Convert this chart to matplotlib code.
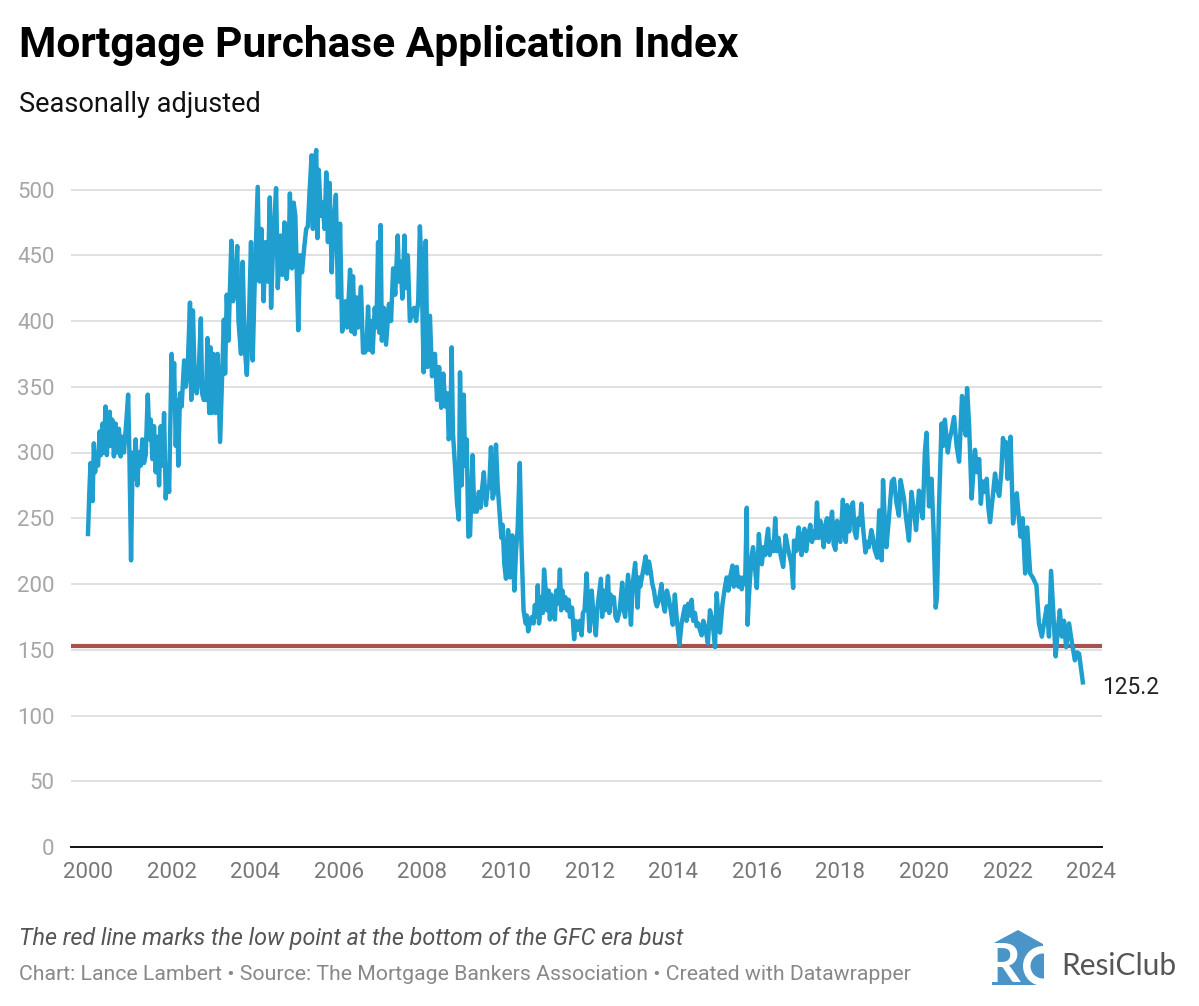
#!/usr/bin/env python3
"""Mortgage Purchase Application Index, weekly values read off the picture."""
import numpy as np
import matplotlib
matplotlib.use("Agg")
import matplotlib.pyplot as plt
from matplotlib.patches import Polygon, Circle

# (years since 2000, index value)
BOOM_A = [(0.00,238),(0.03,268),(0.06,292),(0.09,270),(0.11,263),(0.14,307),(0.17,285),(0.20,298),(0.24,290),
          (0.28,316),(0.31,298),(0.35,322),(0.38,300),(0.42,335),(0.45,298),(0.48,315),(0.52,331),(0.55,305),
          (0.58,325),(0.62,297),(0.66,322),(0.70,300),(0.74,318),(0.78,297),(0.82,312),(0.86,300),(0.92,325),
          (0.96,344),(0.99,300),(1.03,218),(1.07,300),(1.10,280),(1.14,310),(1.18,275),(1.22,300),(1.26,290),
          (1.30,310),(1.34,292),(1.38,298),(1.43,344),(1.47,310),(1.50,325),(1.54,295),(1.58,320),(1.62,285),
          (1.66,312),(1.70,275),(1.74,320),(1.78,290),(1.82,330),(1.86,265),(1.90,290),(1.94,270)]
BOOM_B = [(2.00,375),(2.03,340),(2.06,368),(2.10,305),(2.13,340),(2.16,290),(2.20,345),(2.24,335),(2.30,370),
          (2.34,350),(2.38,360),(2.44,414),(2.47,340),(2.51,408),(2.55,360),(2.60,345),(2.64,355),(2.70,402),
          (2.73,345),(2.77,340),(2.82,340),(2.86,387),(2.90,330),(2.93,380),(2.96,330),(3.00,375),(3.05,330),
          (3.10,375),(3.16,308),(3.20,350),(3.25,401),(3.28,360),(3.32,420),(3.36,385),(3.43,461),(3.47,415),
          (3.52,430),(3.57,457),(3.60,400),(3.66,375),(3.70,445),(3.75,380),(3.80,359),(3.85,400),(3.90,460),
          (3.94,370),(3.98,420)]
PEAK = [(4.06,502),(4.10,430),(4.15,470),(4.20,415),(4.25,460),(4.30,430),(4.35,494),(4.38,410),(4.43,460),
        (4.50,501),(4.54,425),(4.60,465),(4.65,435),(4.70,475),(4.75,432),(4.80,450),(4.83,497),(4.88,440),
        (4.92,490),(4.96,480),(5.03,393),(5.07,450),(5.12,437),(5.17,455),(5.22,470),(5.26,472),(5.30,498),
        (5.35,526),(5.38,470),(5.42,520),(5.46,530),(5.49,463),(5.52,515),(5.57,480),(5.61,490),(5.66,470),
        (5.70,513),(5.74,460),(5.78,505),(5.83,437),(5.87,470),(5.93,496),(5.98,418),(6.03,474),(6.08,392),
        (6.12,400),(6.16,415),(6.20,395),(6.27,439),(6.30,392),(6.34,434),(6.38,390),(6.42,418),(6.46,395),
        (6.53,426),(6.58,376),(6.62,376),(6.66,378),(6.70,411),(6.74,378),(6.78,400),(6.81,376),(6.86,410),
        (6.90,395),(6.94,460),(6.97,391),(7.00,473),(7.03,385),(7.08,410),(7.13,382),(7.20,413),(7.25,400),
        (7.30,440),(7.35,420),(7.41,465),(7.44,430),(7.48,445),(7.52,417),(7.57,465),(7.60,425),(7.65,450),
        (7.70,400),(7.75,405),(7.80,410),(7.85,400),(7.90,415),(7.94,472),(7.98,440)]
BUST = [(8.03,361),(8.08,461),(8.12,365),(8.18,404),(8.23,358),(8.30,375),(8.35,340),(8.40,365),(8.45,334),
        (8.50,360),(8.55,335),(8.60,345),(8.63,310),(8.67,320),(8.70,380),(8.73,315),(8.78,290),(8.83,261),
        (8.87,249),(8.90,361),(8.94,275),(8.99,344),(9.02,290),(9.06,310),(9.10,236),(9.14,237),(9.20,298),
        (9.24,255),(9.27,262),(9.30,255),(9.35,270),(9.39,258),(9.42,270),(9.47,285),(9.52,260),(9.56,272),
        (9.60,275),(9.64,304),(9.68,265),(9.72,270),(9.76,306),(9.80,275),(9.83,262),(9.86,250),(9.89,235),
        (9.92,245),(9.96,215),(10.00,204),(10.05,241),(10.10,205),(10.15,237),(10.20,195),(10.24,225),
        (10.28,243),(10.33,292),(10.37,230),(10.40,200),(10.42,180)]
FLAT = [(10.47,170),(10.50,176),(10.53,164),(10.58,172),(10.62,175),(10.66,170),(10.69,184),(10.73,175),(10.76,199),
        (10.79,170),(10.85,190),(10.88,178),(10.91,211),(10.95,195),(10.98,180),(11.02,195),(11.05,173),(11.08,192),
        (11.11,175),(11.14,185),(11.17,173),(11.20,195),(11.23,185),(11.26,192),(11.29,211),(11.32,180),(11.35,195),
        (11.38,182),(11.42,190),(11.46,180),(11.50,188),(11.53,175),(11.58,182),(11.63,158),(11.66,172),(11.70,165),
        (11.76,172),(11.81,161),(11.84,178),(11.88,180),(11.93,208),(11.96,185),(12.00,164),(12.05,195),(12.08,182),
        (12.15,161),(12.18,180),(12.21,188),(12.27,204),(12.30,175),(12.33,195),(12.37,180),(12.40,190),(12.44,206),
        (12.47,178),(12.50,192),(12.54,185),(12.58,190),(12.62,175),(12.66,172),(12.72,180),(12.78,201),(12.82,180),
        (12.85,175),(12.92,207),(12.99,169),(13.03,200),(13.09,216),(13.15,182),(13.18,205),(13.21,198),(13.28,210),
        (13.34,221),(13.38,208),(13.42,217),(13.46,210),(13.50,200),(13.54,195),(13.58,186),(13.61,183),(13.66,188),
        (13.72,200),(13.76,185),(13.80,179),(13.85,195),(13.90,188),(13.94,180),(13.99,169),(14.04,192),(14.08,175),
        (14.15,154),(14.20,170),(14.28,183),(14.32,172),(14.36,185),(14.40,176),(14.44,188),(14.48,172),(14.52,178),
        (14.56,168),(14.60,170),(14.64,165),(14.68,161),(14.72,172),(14.76,168),(14.83,155),(14.88,180),(14.94,172),
        (15.00,152)]
RECOVERY = [(15.04,193),(15.08,175),(15.12,163),(15.18,185),(15.24,198),(15.28,205),(15.32,195),(15.36,205),
            (15.42,214),(15.45,198),(15.49,205),(15.52,213),(15.56,198),(15.60,205),(15.64,196),(15.68,205),
            (15.72,200),(15.76,258),(15.78,169),(15.81,190),(15.84,205),(15.88,222),(15.91,228),(15.95,215),
            (16.00,197),(16.05,238),(16.08,225),(16.12,215),(16.16,228),(16.20,222),(16.24,235),(16.27,242),
            (16.31,222),(16.36,232),(16.40,225),(16.44,250),(16.48,225),(16.52,235),(16.57,222),(16.63,213),
            (16.69,237),(16.74,228),(16.78,222),(16.83,215),(16.87,197),(16.89,233),(16.94,225),(17.00,243),
            (17.04,228),(17.07,222),(17.11,238),(17.14,242),(17.18,225),(17.22,235),(17.28,245),(17.32,232),
            (17.36,240),(17.40,235),(17.44,262),(17.48,235),(17.52,248),(17.56,240),(17.60,228),(17.64,245),
            (17.68,250),(17.72,232),(17.76,245),(17.80,255),(17.84,230),(17.88,226),(17.92,248),(17.96,240),
            (18.00,232),(18.06,264),(18.09,240),(18.13,232),(18.16,260),(18.21,240),(18.26,258),(18.30,262),
            (18.34,240),(18.38,235),(18.43,250),(18.47,245),(18.50,261),(18.55,240),(18.60,224),(18.64,232),
            (18.68,228),(18.74,241),(18.78,235),(18.82,226),(18.88,220),(18.93,256),(18.99,218),(19.02,279),
            (19.06,250),(19.10,228),(19.16,250),(19.23,278),(19.28,280),(19.34,262),(19.40,252),(19.44,279),
            (19.48,272),(19.52,265),(19.58,248),(19.64,233),(19.70,270),(19.76,255),(19.81,241),(19.88,271),
            (19.92,262),(19.97,250)]
COVID = [(20.02,300),(20.06,315),(20.12,259),(20.18,280),(20.23,240),(20.28,182),(20.31,190),(20.36,260),
         (20.42,322),(20.46,305),(20.50,325),(20.54,310),(20.57,300),(20.61,310),(20.65,315),(20.72,327),
         (20.78,305),(20.84,293),(20.91,343),(20.96,320),(21.00,313),(21.03,349),(21.08,320),(21.14,265),
         (21.18,285),(21.22,302),(21.27,285),(21.32,295),(21.36,261),(21.40,278),(21.46,270),(21.50,280),
         (21.54,258),(21.58,247),(21.64,265),(21.70,284),(21.75,272),(21.80,267),(21.85,285),(21.89,311),
         (21.93,298),(21.96,308),(22.00,280),(22.07,312),(22.13,246),(22.18,260),(22.22,269),(22.27,250),
         (22.31,236),(22.36,250),(22.42,208),(22.47,243),(22.54,208),(22.60,205),(22.69,199),(22.75,170),
         (22.82,160),(22.88,172),(22.94,183),(22.99,160),(23.04,210),(23.09,180),(23.15,145),(23.20,165),
         (23.25,180),(23.30,160),(23.35,172),(23.40,152),(23.47,170),(23.54,155),(23.61,142),(23.66,148),
         (23.71,147),(23.80,125.2)]

GFC_LOW = 152.5
Y_TICKS = [0, 50, 100, 150, 200, 250, 300, 350, 400, 450, 500]
X_TICKS = list(range(2000, 2025, 2))

W, H = 1199, 1006
GREY = "#a6a6a6"
BLUE = "#1f9fcf"

plt.rcParams["font.family"] = ["Roboto", "DejaVu Sans"]

points = np.array(BOOM_A + BOOM_B + PEAK + BUST + FLAT + RECOVERY + COVID)
years = 2000 + points[:, 0]
values = points[:, 1]

fig = plt.figure(figsize=(W / 100, H / 100), dpi=100, facecolor="white")

# axes placed in pixels: grid runs 71..1102, zero at y=847, 500 at y=189.5
left, right, bottom, top = 71, 1102, 847, 140
ax = fig.add_axes([left / W, 1 - bottom / H, (right - left) / W, (bottom - top) / H])
ax.set_xlim(2000 + (left - 88) / 41.8, 2000 + (right - 88) / 41.8)
ax.set_ylim(0, (bottom - top) / 1.315)

ax.grid(axis="y", color="#e1e1e1", linewidth=1.4)
ax.set_axisbelow(True)
ax.axhline(GFC_LOW, color="#a9504e", linewidth=3.0, zorder=2)
ax.plot(years, values, color=BLUE, linewidth=3.2, solid_joinstyle="round", zorder=3, clip_on=False)

for s in ("top", "left", "right"):
    ax.spines[s].set_visible(False)
ax.spines["bottom"].set_color("#111111")
ax.spines["bottom"].set_linewidth(1.4)

ax.set_xticks(X_TICKS)
ax.set_yticks(Y_TICKS)
ax.tick_params(axis="both", length=0, labelsize=16, labelcolor=GREY)
ax.tick_params(axis="x", pad=10.5, labelcolor="#777777")
ax.tick_params(axis="y", pad=12)

ax.annotate("125.2", (years[-1], values[-1]), xytext=(14, -4), textcoords="offset points",
            fontsize=16.3, color="#222222", va="center", annotation_clip=False)


def put(x, y, s, **kw):
    fig.text(x / W, 1 - y / H, s, va="center", **kw)


put(19, 46, "Mortgage Purchase Application Index", fontsize=30.6, fontweight="bold", color="black")
put(19, 105, "Seasonally adjusted", fontsize=19.5, color="#111111")
put(19, 938, "The red line marks the low point at the bottom of the GFC era bust",
    fontsize=16.8, style="italic", color="#555555")
put(19, 975, "Chart: Lance Lambert \u2022 Source: The Mortgage Bankers Association \u2022 Created with Datawrapper",
    fontsize=15.33, color="#888888")

# logo, drawn in pixel coordinates
logo = fig.add_axes([0, 0, 1, 1], facecolor="none")
logo.set_xlim(0, W)
logo.set_ylim(H, 0)
logo.axis("off")
logo_blue = "#4a94c8"
logo.add_patch(Polygon([(992, 944), (1018, 930), (1043, 944), (1043, 985), (992, 985)], color=logo_blue, lw=0))
logo.text(986, 967, "R", fontsize=39, fontweight="bold", color="white", va="center", family="Lato")
logo.add_patch(Circle((1043, 966), 20, color="white", lw=0))
logo.add_patch(Circle((1043, 966), 12.5, color=logo_blue, lw=0))
logo.fill_between([1044, 1058], 925, 990, color="white", lw=0)
logo.fill_between([980, 992], 925, 990, color="white", lw=0)
logo.text(1061, 966, "ResiClub", fontsize=21.5, color="#555555", va="center", family="Lato")

fig.savefig("out.png", dpi=100)
